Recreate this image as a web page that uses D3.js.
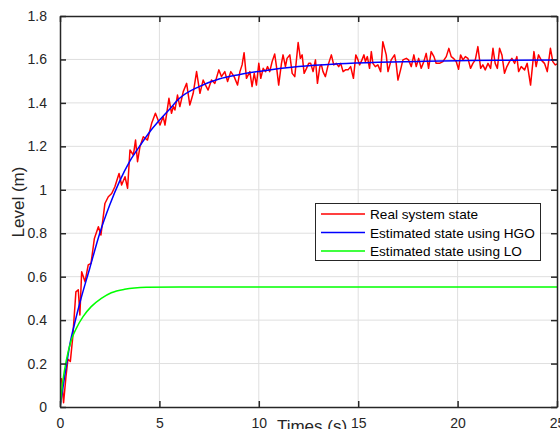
<!DOCTYPE html>
<html>
<head>
<meta charset="utf-8">
<script src="https://cdn.jsdelivr.net/npm/d3@7"></script>
<style>
  body { margin: 0; background: #fff; }
  svg { display: block; font-family: "Liberation Sans", Arial, sans-serif; }
</style>
</head>
<body>
<svg id="chart" width="560" height="429"></svg>
<script>
// values
var realT = [0,0.08,0.18,0.3,0.4,0.52,0.64,0.8,0.92,1.0,1.09,1.26,1.42,1.56,1.73,1.93,2.06,2.26,2.43,2.6,
  2.76,2.97,3.1,3.27,3.4,3.52,3.69,3.8,3.9,4.02,4.19,4.4,4.61,4.8,5.03,5.19,5.28,5.48,5.61,5.7,
  5.78,5.91,6.03,6.2,6.37,6.53,6.7,6.87,7.04,7.2,7.32,7.45,7.62,7.79,7.99,8.12,8.29,8.43,8.59,8.76,
  8.93,9.05,9.16,9.26,9.38,9.55,9.66,9.77,9.88,10.0,10.1,10.22,10.34,10.44,10.55,10.67,10.8,10.89,11.0,11.14,
  11.22,11.34,11.42,11.56,11.68,11.81,11.98,12.09,12.18,12.28,12.4,12.51,12.61,12.73,12.85,12.95,13.07,13.15,13.23,13.35,
  13.49,13.65,13.77,13.9,14.02,14.12,14.24,14.36,14.49,14.62,14.76,14.88,14.99,15.07,15.19,15.29,15.36,15.46,15.57,15.66,
  15.74,15.86,15.99,16.13,16.24,16.41,16.5,16.66,16.83,16.91,17.0,17.13,17.25,17.42,17.53,17.67,17.8,17.92,18.04,18.17,
  18.3,18.42,18.54,18.67,18.81,18.92,19.09,19.26,19.43,19.56,19.68,19.79,19.93,20.05,20.15,20.27,20.39,20.52,20.65,20.77,
  20.89,21.02,21.16,21.27,21.39,21.53,21.66,21.78,21.89,22.0,22.11,22.23,22.36,22.48,22.61,22.73,22.87,22.98,23.07,23.2,
  23.37,23.5,23.67,23.84,23.95,24.07,24.2,24.37,24.51,24.67,24.79,24.91,25.0];
var realV = [0.12,0.13,0.02,0.14,0.22,0.21,0.32,0.53,0.54,0.424,0.623,0.577,0.654,0.661,0.776,0.83,0.792,0.937,0.968,0.983,
  1.014,1.075,1.022,1.06,1.007,1.183,1.16,1.229,1.129,1.198,1.244,1.229,1.306,1.352,1.298,1.337,1.298,1.421,1.352,1.383,
  1.367,1.436,1.383,1.452,1.49,1.39,1.444,1.544,1.444,1.505,1.482,1.459,1.505,1.49,1.552,1.521,1.544,1.498,1.544,1.521,
  1.482,1.544,1.575,1.631,1.513,1.544,1.475,1.536,1.482,1.582,1.513,1.559,1.544,1.567,1.544,1.59,1.625,1.567,1.482,1.582,
  1.621,1.567,1.605,1.621,1.536,1.521,1.678,1.605,1.621,1.536,1.559,1.582,1.582,1.544,1.598,1.49,1.567,1.575,1.544,1.521,
  1.575,1.621,1.575,1.582,1.567,1.582,1.544,1.552,1.552,1.567,1.513,1.621,1.598,1.575,1.598,1.621,1.59,1.613,1.559,1.636,
  1.582,1.567,1.575,1.544,1.682,1.621,1.544,1.598,1.621,1.582,1.505,1.552,1.598,1.605,1.598,1.567,1.621,1.567,1.605,1.559,
  1.59,1.628,1.559,1.636,1.613,1.582,1.582,1.59,1.613,1.651,1.613,1.605,1.59,1.555,1.621,1.598,1.613,1.605,1.559,1.582,
  1.598,1.659,1.559,1.575,1.552,1.582,1.559,1.651,1.582,1.559,1.651,1.621,1.536,1.567,1.59,1.605,1.582,1.613,1.544,1.567,
  1.552,1.582,1.482,1.636,1.567,1.621,1.598,1.582,1.544,1.651,1.59,1.575,1.58];

var hgoT = [0,0.25,0.5,0.75,1,1.5,2,2.5,3,3.5,4,4.5,5,5.5,6,7,8,9,10,12,14,16,18,20,22,25];
var hgoV = [0,0.15,0.29,0.39,0.48,0.64,0.80,0.93,1.04,1.13,1.20,1.265,1.32,1.37,1.42,1.475,1.51,1.53,1.545,1.568,1.58,1.587,1.591,1.594,1.596,1.598];

var loT = [0,0.15,0.32,0.57,0.82,1.16,1.57,2.08,2.58,3.25,4.34,6,25];
var loV = [0,0.124,0.216,0.308,0.362,0.416,0.462,0.50,0.526,0.542,0.551,0.553,0.553];

var xTicks = [0,5,10,15,20,25];
var yTicks = [0,0.2,0.4,0.6,0.8,1,1.2,1.4,1.6,1.8];
var yTickLabels = ["0","0.2","0.4","0.6","0.8","1","1.2","1.4","1.6","1.8"];
var legendNames = ["Real system state","Estimated state using HGO","Estimated state using LO"];
var seriesColors = ["#ff0000","#0000ff","#00ff00"];

function drawChart() {
  var svg = d3.select("#chart")
  var pLeft = 60, pRight = 557, pTop = 16, pBottom = 407
  var axisColor = "#262626"

  var x = d3.scaleLinear().domain([0,25]).range([pLeft,pRight])
  var y = d3.scaleLinear().domain([0,1.8]).range([pBottom,pTop])

  svg.append("defs").append("clipPath").attr("id","plotclip")
    .append("rect")
    .attr("x", pLeft).attr("y", pTop)
    .attr("width", pRight-pLeft).attr("height", pBottom-pTop)

  // grid
  var grid = svg.append("g").attr("stroke","#dfdfdf").attr("stroke-width",1)
  grid.selectAll("line.gx").data(xTicks.slice(1,-1)).enter().append("line")
    .attr("x1", function(d){return x(d)}).attr("x2", function(d){return x(d)})
    .attr("y1", pTop).attr("y2", pBottom)
  grid.selectAll("line.gy").data(yTicks.slice(1,-1)).enter().append("line")
    .attr("y1", function(d){return y(d)}).attr("y2", function(d){return y(d)})
    .attr("x1", pLeft).attr("x2", pRight)

  // data lines
  var series = [
    {t: realT, v: realV, curve: d3.curveLinear},
    {t: hgoT, v: hgoV, curve: d3.curveMonotoneX},
    {t: loT, v: loV, curve: d3.curveMonotoneX}
  ]
  var plot = svg.append("g").attr("clip-path","url(#plotclip)")
  series.forEach(function(s,i){
    var line = d3.line()
      .x(function(d){return x(s.t[d])})
      .y(function(d){return y(s.v[d])})
      .curve(s.curve)
    plot.append("path")
      .attr("d", line(d3.range(s.t.length)))
      .attr("fill","none")
      .attr("stroke", seriesColors[i])
      .attr("stroke-width", 1.5)
      .attr("stroke-linejoin","round")
  })

  // axes (box with inward ticks)
  var bottomAxis = d3.axisBottom(x).tickValues(xTicks).tickSizeInner(-6).tickSizeOuter(0).tickPadding(11)
  var leftAxis = d3.axisLeft(y).tickValues(yTicks).tickSizeInner(-6).tickSizeOuter(0).tickPadding(13)
    .tickFormat(function(d,i){return yTickLabels[i]})
  var topAxis = d3.axisTop(x).tickValues(xTicks).tickSizeInner(-6).tickSizeOuter(0).tickFormat("")
  var rightAxis = d3.axisRight(y).tickValues(yTicks).tickSizeInner(-6).tickSizeOuter(0).tickFormat("")

  function styleAxis(g){
    g.selectAll("path").attr("stroke", axisColor).attr("stroke-width", 1.5)
    g.selectAll("line").attr("stroke", axisColor).attr("stroke-width", 1.5)
    g.selectAll("text").attr("fill", axisColor).attr("font-size", "14px")
      .attr("font-family", "Liberation Sans, Arial, sans-serif")
  }
  svg.append("g").attr("transform","translate(0,"+pBottom+")").call(bottomAxis).call(styleAxis)
  svg.append("g").attr("transform","translate("+pLeft+",0)").call(leftAxis).call(styleAxis)
  svg.append("g").attr("transform","translate(0,"+pTop+")").call(topAxis).call(styleAxis)
  svg.append("g").attr("transform","translate("+pRight+",0)").call(rightAxis).call(styleAxis)

  // axis labels
  svg.append("text")
    .attr("x", 312).attr("y", 432)
    .attr("text-anchor","middle")
    .attr("font-size","17px")
    .attr("fill", axisColor)
    .text("Times (s)")
  svg.append("text")
    .attr("transform","translate(24,202) rotate(-90)")
    .attr("text-anchor","middle")
    .attr("font-size","17px")
    .attr("fill", axisColor)
    .text("Level (m)")

  // legend
  var legend = svg.append("g")
  legend.append("rect")
    .attr("x", 315.5).attr("y", 203.5)
    .attr("width", 225).attr("height", 57)
    .attr("fill","#fff")
    .attr("stroke", axisColor)
    .attr("stroke-width", 1)
  var rows = legend.selectAll("g.row").data(legendNames).enter().append("g")
    .attr("transform", function(d,i){return "translate(0,"+(214 + i*18.5)+")"})
  rows.append("line")
    .attr("x1", 321).attr("x2", 365)
    .attr("stroke", function(d,i){return seriesColors[i]})
    .attr("stroke-width", 1.5)
  rows.append("text")
    .attr("x", 370).attr("y", 5)
    .attr("font-size","13.6px")
    .attr("fill","#000")
    .text(function(d){return d})
}

drawChart()
</script>
</body>
</html>
